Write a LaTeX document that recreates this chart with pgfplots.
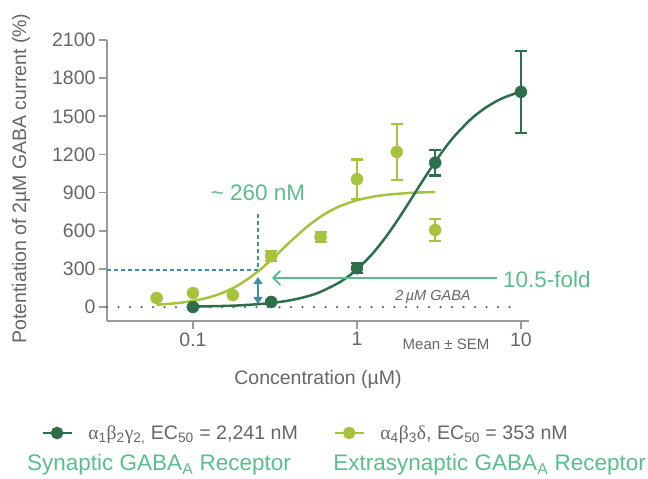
\documentclass[border=0pt]{standalone}
\usepackage{fontspec}
\setmainfont{Liberation Sans}
\newfontfamily\grk{Liberation Serif}
\usepackage{pgfplots}
\pgfplotsset{compat=1.18}
\usetikzlibrary{arrows.meta}
\definecolor{darkg}{HTML}{2D6E4B}
\definecolor{lightg}{HTML}{A5C33C}
\definecolor{mint}{HTML}{5ABE8C}
\definecolor{teal2}{HTML}{3C91A5}
\definecolor{axgray}{HTML}{9A9A9A}
\definecolor{txtgray}{HTML}{666666}

\pgfplotstableread{
x y e
0.1 0 0
0.3 40 6
1 305 40
3 1135 100
10 1692 322
}\darkdata
\pgfplotstableread{
x y e
0.06 71 0
0.1 110 0
0.175 94 0
0.3 400 38
0.6 551 42
1 1005 155
1.75 1220 218
3 606 85
}\lightdata

\begin{document}
\begin{tikzpicture}
\path[use as bounding box] (0pt,0pt) rectangle (648pt,479pt);
\begin{axis}[
 at={(107pt,158pt)}, anchor=south west,
 scale only axis, width=422pt, height=281pt,
 xmode=log, xmin=0.0299, xmax=11.2, ymin=-110, ymax=2100,
 axis x line*=bottom, axis y line*=left,
 axis line style={axgray, line width=2pt},
 xtick={0.1,1,10}, xticklabels={0.1,1,10}, xminorticks=false,
 ytick={0,300,...,2100},
 tick align=outside, major tick length=8pt,
 tick style={axgray, line width=1.6pt},
 ticklabel style={font=\fontsize{19.5}{22}\selectfont, text=txtgray},
 /pgf/number format/assume math mode=true,
 /pgf/number format/1000 sep={},
 clip=false,
 legend columns=2,
 legend style={at={(axis description cs:-0.162,-0.3986)}, anchor=west, draw=none, fill=none,
   font=\fontsize{19.6}{22}\selectfont, text=txtgray,
   /tikz/every odd column/.append style={column sep=13pt},
   /tikz/every even column/.append style={column sep=34pt}},
 legend cell align=left,
 legend image code/.code={\draw[#1, mark repeat=2, mark phase=2] plot coordinates {(0pt,0pt) (14pt,0pt) (29pt,0pt)};},
]
% zero reference line
\addplot[forget plot, axgray!65!black, line width=2.5pt, line cap=round, dash pattern=on 0pt off 11.5pt] coordinates {(0.0299,0) (10,0)};
% fitted curves
\addplot[forget plot, lightg, line width=2.5pt, smooth] coordinates {
(0.06,18.1) (0.08,30.7) (0.1,47.9) (0.125,75.5) (0.15,109.4) (0.175,148.4) (0.2,191.0)
(0.25,281.5) (0.3,371.0) (0.35,452.9) (0.4,524.3) (0.5,635.0) (0.6,710.4) (0.7,761.6)
(0.8,797.0) (1,840.0) (1.25,867.5) (1.5,882.0) (2,895.7) (2.5,901.5) (3,904.5)};
\addplot[forget plot, darkg, line width=2.5pt, smooth] coordinates {
(0.1,3.6) (0.15,7.9) (0.2,14.0) (0.3,31.3) (0.4,55.0) (0.5,84.5) (0.6,119.4) (0.8,201.2)
(1,295.6) (1.25,422.5) (1.5,550.7) (1.75,674.2) (2,789.1) (2.25,893.6) (2.5,987.0)
(3,1142.5) (3.5,1262.4) (4,1354.8) (5,1482.3) (6,1562.0) (7,1614.6) (8,1650.5) (10,1695.0)};
% data points
\addplot[forget plot, lightg, only marks, mark=*, mark size=6pt,
  error bars/.cd, y dir=both, y explicit,
  error bar style={line width=2.2pt, lightg},
  error mark options={lightg, line width=2.2pt, mark size=6pt, rotate=90}]
  table[x=x, y=y, y error=e] {\lightdata};
\addplot[forget plot, darkg, only marks, mark=*, mark size=6pt,
  error bars/.cd, y dir=both, y explicit,
  error bar style={line width=2.2pt, darkg},
  error mark options={darkg, line width=2.2pt, mark size=6pt, rotate=90}]
  table[x=x, y=y, y error=e] {\darkdata};
% legend
\addlegendimage{darkg, line width=2.5pt, mark=*, mark size=5pt}
\addlegendentry{{\grk α}\textsubscript{1}{\grk β}\textsubscript{2}{\grk γ}\textsubscript{2,} EC\textsubscript{50} = 2,241 nM}
\addlegendimage{lightg, line width=2.5pt, mark=*, mark size=5pt}
\addlegendentry{{\grk α}\textsubscript{4}{\grk β}\textsubscript{3}{\grk δ}, EC\textsubscript{50} = 353 nM}
\end{axis}
% annotations
\draw[teal2, line width=1.3pt, dash pattern=on 4pt off 3pt] (107pt,209pt) -- (258pt,209pt) -- (258pt,266pt);
\draw[teal2, line width=1.6pt, {Triangle[length=7pt,width=9pt]}-{Triangle[length=7pt,width=9pt]}] (258pt,202pt) -- (258pt,175pt);
\draw[mint, line width=1.8pt, -{Straight Barb[length=7pt,width=14pt]}] (497pt,201pt) -- (272pt,201pt);
\node[mint, font=\fontsize{22.5}{26}\selectfont] at (258pt,286pt) {\textasciitilde\ 260 nM};
\node[mint, font=\fontsize{22.5}{26}\selectfont, anchor=west, inner sep=0pt] at (503pt,200pt) {10.5-fold};
\node[txtgray, font=\fontsize{14.5}{17}\selectfont\itshape] at (433pt,182pt) {2\,µM GABA};
\node[txtgray, font=\fontsize{15}{17}\selectfont] at (446pt,135pt) {Mean ± SEM};
% axis labels
\node[txtgray, font=\fontsize{19.5}{22}\selectfont] at (318pt,100pt) {Concentration (µM)};
\node[txtgray, font=\fontsize{19.5}{22}\selectfont, rotate=90] at (21pt,300.5pt) {Potentiation of 2µM GABA current (\%)};
% receptor labels
\node[mint, font=\fontsize{22.5}{26}\selectfont, anchor=west, inner sep=0pt] at (27pt,14pt) {Synaptic GABA\textsubscript{A} Receptor};
\node[mint, font=\fontsize{22.5}{26}\selectfont, anchor=east, inner sep=0pt] at (646pt,14pt) {Extrasynaptic GABA\textsubscript{A} Receptor};
\end{tikzpicture}
\end{document}
